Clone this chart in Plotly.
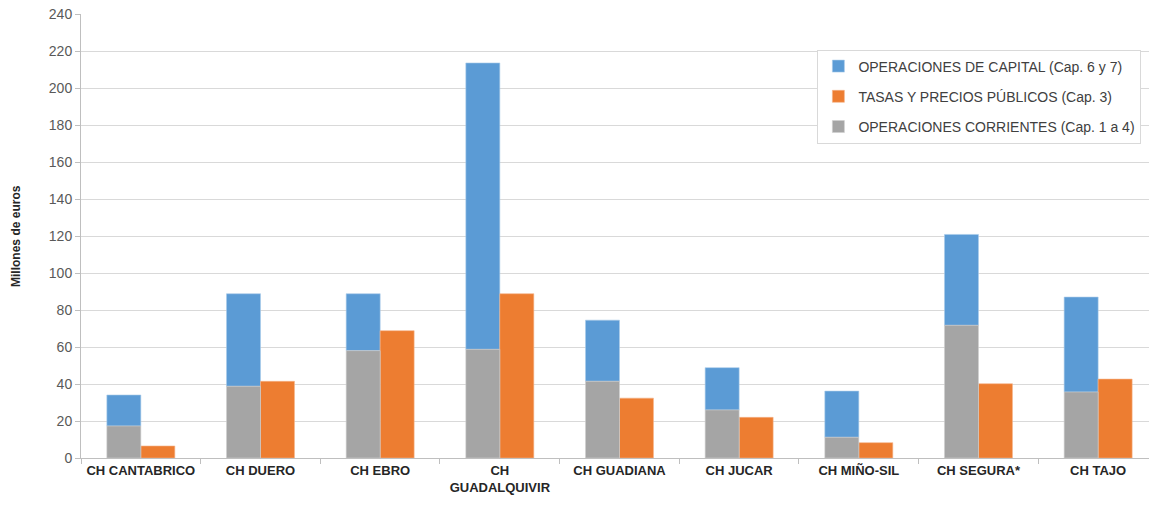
import plotly.graph_objects as go

categories = ["CH CANTABRICO", "CH DUERO", "CH EBRO", "CH<br>GUADALQUIVIR", "CH GUADIANA",
              "CH JUCAR", "CH MIÑO-SIL", "CH SEGURA*", "CH TAJO"]
corrientes = [17.3, 38.8, 58.1, 58.8, 41.5, 26.0, 11.2, 71.8, 35.7]
capital = [16.8, 50.1, 30.8, 155.0, 33.1, 22.9, 25.0, 49.2, 51.4]
tasas = [6.5, 41.5, 68.9, 88.9, 32.4, 22.0, 8.3, 40.2, 42.7]

BLUE = "#5B9BD5"
ORANGE = "#ED7D31"
GREY = "#A5A5A5"
FONT = "Liberation Sans, Arial, sans-serif"

fig = go.Figure()
fig.add_trace(go.Bar(
    x=categories, y=capital, base=corrientes, name="OPERACIONES DE CAPITAL (Cap. 6 y 7)",
    marker=dict(color=BLUE, line=dict(width=0.6, color="#A9CBEA")), offsetgroup="a", legendgroup="g1"))
fig.add_trace(go.Bar(
    x=categories, y=tasas, name="TASAS Y PRECIOS PÚBLICOS (Cap. 3)",
    marker=dict(color=ORANGE, line=dict(width=0.6, color="#F5B48A")), offsetgroup="b", legendgroup="g2"))
fig.add_trace(go.Bar(
    x=categories, y=corrientes, name="OPERACIONES CORRIENTES (Cap. 1 a 4)",
    marker=dict(color=GREY, line=dict(width=0.6, color="#CFCFCF")), offsetgroup="a", legendgroup="g3"))

fig.update_layout(
    width=1149, height=509,
    margin=dict(l=81, r=0, t=14, b=51, autoexpand=False),
    paper_bgcolor="white", plot_bgcolor="white",
    barmode="group", bargap=0.432, bargroupgap=0,
    font=dict(family=FONT, color="#404040"),
    showlegend=True,
    legend=dict(
        x=0.6895, y=0.92, xanchor="left", yanchor="top",
        bordercolor="#D9D9D9", borderwidth=1, bgcolor="white",
        font=dict(size=14, color="#404040", family=FONT),
        tracegroupgap=9, traceorder="grouped",
    ),
    xaxis=dict(
        type="category", range=[-0.5, 8.425], automargin=False,
        showgrid=False, showline=True, linecolor="#BFBFBF", linewidth=1,
        ticks="outside", tickson="boundaries", ticklen=5, tickcolor="#BFBFBF",
        tickfont=dict(size=13, color="#262626", family=FONT, weight="bold"),
    ),
    yaxis=dict(
        range=[0, 240.3], dtick=20, tick0=0, automargin=False,
        ticklabeloverflow="allow",
        showgrid=True, gridcolor="#D9D9D9", gridwidth=1,
        showline=True, linecolor="#BFBFBF", linewidth=1,
        ticks="outside", ticklen=5, tickcolor="#BFBFBF",
        tickfont=dict(size=14, color="#595959", family=FONT),
        zeroline=False,
    ),
    annotations=[dict(
        text="<b>Millones de euros</b>", textangle=-90,
        xref="paper", yref="paper", x=-0.0609, y=0.5,
        xanchor="center", yanchor="middle", showarrow=False,
        font=dict(size=12, color="#262626", family=FONT),
    )],
)

fig.write_html("out.html", config={"displayModeBar": False},
               post_script="document.body.style.margin='0';")
